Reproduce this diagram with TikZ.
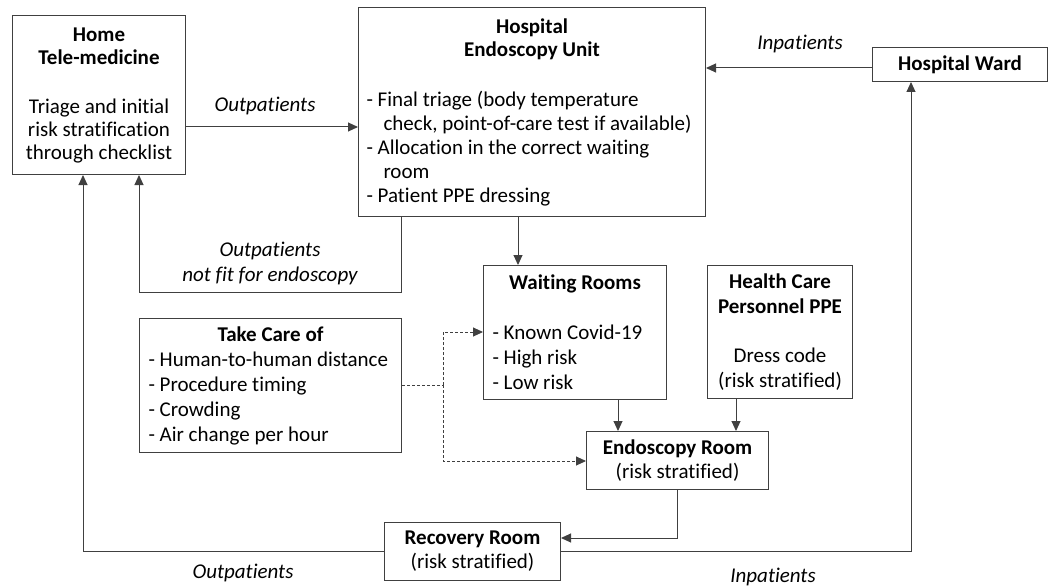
\documentclass[tikz,border=0pt]{standalone}
\usepackage{fontspec}
\setmainfont{Carlito}[Ligatures=NoCommon]
\usetikzlibrary{arrows.meta}

\begin{document}
\begin{tikzpicture}[x=1pt,y=-1pt,
  font=\fontsize{21}{23}\selectfont,
  box/.style={draw=black!75,line width=1pt,anchor=north west,inner sep=0pt,align=center},
  listbox/.style={box,align=none},
  arr/.style={draw=black!75,line width=1pt,-{Triangle[length=10pt,width=9pt]}},
  dsh/.style={draw=black!75,line width=0.9pt,dash pattern=on 3pt off 2pt},
  darr/.style={dsh,-{Triangle[length=10pt,width=9pt]}},
  lbl/.style={font=\fontsize{21}{25}\selectfont\itshape,align=center}]
  \useasboundingbox (0,0) rectangle (1048,588);

  % boxes
  \node[box,minimum width=173pt,minimum height=159pt] (home) at (12,15)
    {\textbf{Home}\\\textbf{Tele-medicine}\\[26pt]Triage and initial\\risk stratification\\through checklist};
  \node[listbox,minimum width=347pt,minimum height=209pt,text width=331pt] (unit) at (358,7)
    {\parindent=0pt{\centering\textbf{Hospital}\\\textbf{Endoscopy Unit}\par}\vspace{26pt}
     \raggedright\baselineskip=24pt
     - Final triage (body temperature\\
     \hspace*{17pt}check, point-of-care test if available)\\
     - Allocation in the correct waiting\\
     \hspace*{17pt}room\\
     - Patient PPE dressing\par};
  \node[box,minimum width=175pt,minimum height=34pt] (ward) at (872,47) {\textbf{Hospital Ward}};
  \node[listbox,minimum width=183pt,minimum height=134pt,text width=165pt] (wait) at (483,265)
    {\parindent=0pt{\centering\textbf{Waiting Rooms}\par}\vspace{25pt}
     \raggedright\baselineskip=25pt
     - Known Covid-19\\
     - High risk\\
     - Low risk\par};
  \node[box,minimum width=145pt,minimum height=133pt] (ppe) at (707,265)
    {\textbf{Health Care}\\[2pt]\textbf{Personnel PPE}\\[26pt]Dress code\\[2pt](risk stratified)};
  \node[listbox,minimum width=262pt,minimum height=134pt,text width=244pt] (care) at (139,318)
    {\parindent=0pt{\centering\textbf{Take Care of}\par}
     \raggedright\baselineskip=25pt
     - Human-to-human distance\\
     - Procedure timing\\
     - Crowding\\
     - Air change per hour\par};
  \node[box,minimum width=182pt,minimum height=58pt] (eroom) at (586,431)
    {\textbf{Endoscopy Room}\\[1pt](risk stratified)};
  \node[box,minimum width=176pt,minimum height=58pt] (recov) at (384,522)
    {\textbf{Recovery Room}\\[1pt](risk stratified)};

  % connectors
  \draw[arr] (home.east |- 0,127) -- (unit.west |- 0,127);
  \draw[arr] (ward.west |- 0,68) -- (unit.east |- 0,68);
  \draw[arr] (unit.south -| 401,0) |- (139,292) -- (home.south -| 139,0);
  \draw[arr] (unit.south -| 518,0) -- (wait.north -| 518,0);
  \draw[arr] (wait.south -| 618,0) -- (eroom.north -| 618,0);
  \draw[arr] (ppe.south -| 736,0) -- (eroom.north -| 736,0);
  \draw[arr] (eroom.south -| 677,0) |- (recov.east |- 0,538);
  \draw[arr] (recov.east |- 0,551) -| (ward.south -| 911,0);
  \draw[arr] (recov.west |- 0,551) -| (home.south -| 83,0);
  \draw[dsh] (care.east |- 0,385) -- (443,385);
  \draw[darr] (443,385) |- (wait.west |- 0,332);
  \draw[darr] (443,385) |- (eroom.west |- 0,461);

  % labels
  \node[lbl] (l1) at (265,106) {Outpatients};
  \node[lbl] (l2) at (800,44) {Inpatients};
  \node[lbl] (l3) at (270,263) {Outpatients\\not fit for endoscopy};
  \node[lbl] (l4) at (243,573) {Outpatients};
  \node[lbl] (l5) at (773,577) {Inpatients};
\end{tikzpicture}
\end{document}
